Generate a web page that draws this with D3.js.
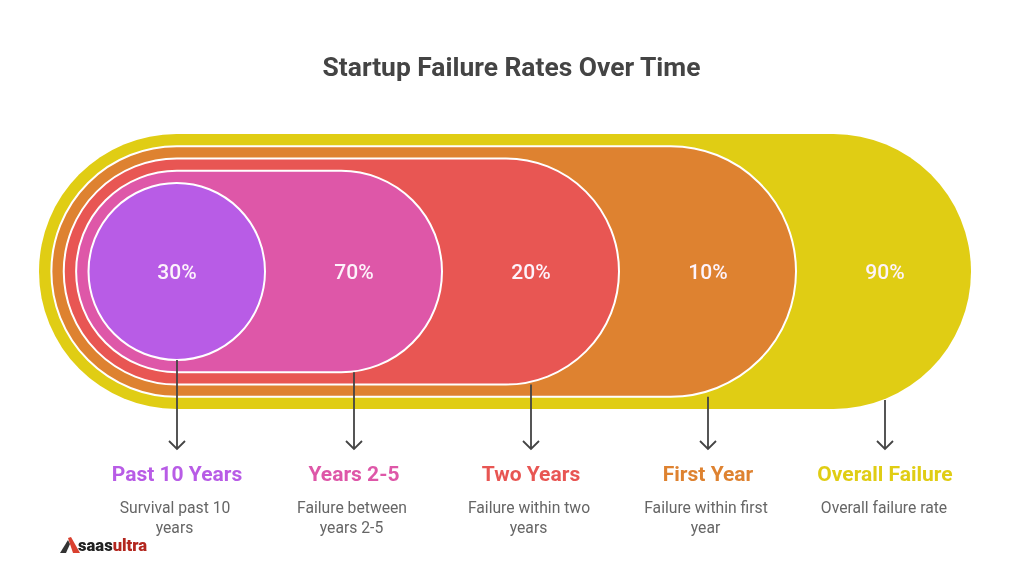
<!DOCTYPE html>
<html lang="en">
<head>
  <meta charset="UTF-8" />
  <title>Startup Failure Rates Over Time</title>
  <script src="https://d3js.org/d3.v7.min.js"></script>
  <style>
    body { margin: 0; background: #fff; font-family: Roboto, sans-serif; }
    /* the source picture is a little soft */
    svg { display: block; filter: blur(0.4px); }
  </style>
</head>
<body>
  <div id="chart"></div>
  <script>
    // innermost shape first, same order as the columns under the chart
    const categories = ["Past 10 Years", "Years 2-5", "Two Years", "First Year", "Overall Failure"];
    const values = [30, 70, 20, 10, 90];
    const descriptions = [
      ["Survival past 10", "years"],
      ["Failure between", "years 2-5"],
      ["Failure within two", "years"],
      ["Failure within first", "year"],
      ["Overall failure rate"]
    ];
    const colors = ["#b85ce6", "#de57a8", "#e85653", "#de8230", "#e0cd14"];

    const width = 1024, height = 566;
    const cy = 271.5, arrowEnd = 449;

    const svg = d3.select("#chart").append("svg")
      .attr("width", width)
      .attr("height", height);

    svg.append("text")
      .attr("x", 511.5)
      .attr("y", 76)
      .attr("text-anchor", "middle")
      .attr("font-size", 26.4)
      .attr("font-weight", 700)
      .attr("fill", "#444")
      .text("Startup Failure Rates Over Time");

    const x = d3.scalePoint().domain(categories).range([177, 885]);
    const color = d3.scaleOrdinal().domain(categories).range(colors);

    // each ring sits about 12px outside the previous one
    const radius = d3.scaleLinear().domain([0, 4]).range([88.5, 137.5]);
    const left = d3.scaleLinear().domain([0, 4]).range([88.5, 39]);

    const shapes = categories.map((c, i) => ({ c, i, v: values[i] }));

    // outer yellow has no white outline and stops a little short on the right
    const rightEnd = d => d.i === 4 ? 971 : x(d.c) + 88;

    svg.append("g").selectAll("rect")
      .data(shapes.slice().reverse())
      .enter().append("rect")
      .attr("x", d => left(d.i))
      .attr("y", d => cy - radius(d.i))
      .attr("width", d => rightEnd(d) - left(d.i))
      .attr("height", d => radius(d.i) * 2)
      .attr("rx", d => radius(d.i))
      .attr("fill", d => color(d.c))
      .attr("stroke", d => d.i === 4 ? "none" : "#fff")
      .attr("stroke-width", 2);

    svg.append("g").selectAll("text")
      .data(shapes)
      .enter().append("text")
      .attr("x", d => x(d.c))
      .attr("y", cy + 7)
      .attr("text-anchor", "middle")
      .attr("font-size", 21)
      .attr("font-weight", 500)
      .attr("fill", "#fdf3fb")
      .text(d => d.v + "%");

    // arrows start on the bottom edge of their shape, the yellow one a bit inside
    const arrowStart = d => d.i === 4 ? 400 : cy + radius(d.i);

    svg.append("g")
      .attr("fill", "none")
      .attr("stroke", "#444")
      .attr("stroke-width", 1.8)
      .selectAll("path")
      .data(shapes)
      .enter().append("path")
      .attr("d", d => {
        const px = x(d.c);
        return `M${px},${arrowStart(d)}V${arrowEnd}M${px - 8},${arrowEnd - 8}L${px},${arrowEnd}L${px + 8},${arrowEnd - 8}`;
      });

    const cols = svg.append("g").selectAll("g")
      .data(shapes)
      .enter().append("g");

    cols.append("text")
      .attr("x", d => x(d.c))
      .attr("y", 481)
      .attr("text-anchor", "middle")
      .attr("font-size", 21)
      .attr("font-weight", 700)
      .attr("fill", d => color(d.c))
      .text(d => d.c);

    cols.each(function (d) {
      d3.select(this).selectAll("text.desc")
        .data(descriptions[d.i])
        .enter().append("text")
        .attr("class", "desc")
        .attr("x", (l, j) => x(d.c) + (j === 1 ? -2.5 : d.i === 4 ? -1 : -2))
        .attr("y", (l, j) => 513 + j * 19.5)
        .attr("text-anchor", "middle")
        .attr("font-size", 15.7)
        .attr("fill", "#666")
        .text(l => l);
    });

    // small logo, bottom left
    const logo = svg.append("g");
    logo.append("path")
      .attr("d", "M60,553L68,540L70,544L66,553Z")
      .attr("fill", "#333");
    logo.append("path")
      .attr("d", "M68,538L71,537L80,553L73,553Z")
      .attr("fill", "#d9402f");
    const logoText = logo.append("text")
      .attr("x", 78)
      .attr("y", 551)
      .attr("font-size", 16.6)
      .attr("font-weight", 900)
      .attr("font-family", "Roboto, sans-serif");
    logoText.append("tspan").attr("fill", "#222").text("saas");
    logoText.append("tspan").attr("fill", "#b3261e").text("ultra");
  </script>
</body>
</html>
